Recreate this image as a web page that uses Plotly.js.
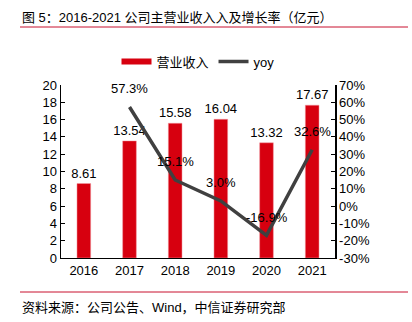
<!DOCTYPE html>
<html><head><meta charset="utf-8">
<script src="https://cdn.plot.ly/plotly-3.0.1.min.js"></script>
<style>html,body{margin:0;padding:0;background:#fff}#c{width:412px;height:322px}</style>
</head><body><div id="c"></div>
<script>
const years = ['2016','2017','2018','2019','2020','2021'];
const revenue = [8.61, 13.54, 15.58, 16.04, 13.32, 17.67];
const yoyYears = ['2017','2018','2019','2020','2021'];
const yoy = [57.3, 15.1, 3.0, -16.9, 32.6];
const leftTicks = [0,2,4,6,8,10,12,14,16,18,20];
const rightTicks = [-30,-20,-10,0,10,20,30,40,50,60,70];

const F = 'Liberation Sans, Arial, Noto Sans CJK SC, sans-serif';
const traces = [
  {type:'bar', name:'营业收入', x:years, y:revenue, showlegend:false,
   marker:{color:'#d7000f', line:{color:'#f2a0a8', width:0.5}},
   width:0.3, text:revenue.map(v=>v.toFixed(2)), textposition:'outside', constraintext:'none', cliponaxis:false,
   textfont:{family:F, size:13, color:'#000'}},
  {type:'scatter', mode:'lines', name:'营业收入', x:[years[0], years[0]], y:[null, null], line:{color:'#d7000f', width:6}},
  {type:'scatter', mode:'lines', name:'yoy', x:yoyYears, y:yoy, yaxis:'y2',
   line:{color:'#404040', width:3.5}, cliponaxis:false}
];
const yoyLabels = yoyYears.map((yr,i)=>({xref:'x', yref:'y2', x:years.indexOf(yr), y:yoy[i], yshift:18, showarrow:false,
  text:yoy[i].toFixed(1)+'%', font:{family:F, size:13, color:'#000'}}));
const layout = {
  width:412, height:322, margin:{l:61, r:77, t:85, b:64},
  paper_bgcolor:'#fff', plot_bgcolor:'#fff', font:{family:F, size:13, color:'#000'},
  showlegend:true, bargap:0.7,
  legend:{orientation:'h', x:0.5, xanchor:'center', y:1.135, yanchor:'middle', font:{family:F, size:13}, itemwidth:30, traceorder:'normal'},
  xaxis:{type:'category', categoryorder:'array', categoryarray:years, range:[-0.5, years.length-0.5], showline:true, linecolor:'#000', linewidth:1, ticks:'', showgrid:false, tickfont:{size:13}},
  yaxis:{range:[0,20], tickvals:leftTicks, showline:true, linecolor:'#000', linewidth:1.5, ticks:'inside', ticklen:4, tickcolor:'#000', showgrid:false, zeroline:false, tickfont:{size:13}},
  yaxis2:{overlaying:'y', side:'right', range:[-30,70], tickvals:rightTicks, ticktext:rightTicks.map(v=>v+'%'), showline:true, linecolor:'#000', linewidth:1.5, ticks:'inside', ticklen:4, tickcolor:'#000', showgrid:false, zeroline:false, tickfont:{size:13}},
  annotations:[
    {xref:'paper', yref:'paper', x:-41/274, y:1+ (85-17)/173, xanchor:'left', yanchor:'middle', showarrow:false,
     text:'图 5：2016-2021 公司主营业收入入及增长率（亿元）', font:{family:F, size:13, color:'#000'}},
    {xref:'paper', yref:'paper', x:-41/274, y:-(307-258)/173, xanchor:'left', yanchor:'middle', showarrow:false,
     text:'资料来源：公司公告、Wind，中信证券研究部', font:{family:F, size:13, color:'#000'}}
  ].concat(yoyLabels),
  shapes:[
    {type:'line', xref:'paper', yref:'paper', x0:-41/274, x1:347/274, y0:1+(85-27)/173, y1:1+(85-27)/173, line:{color:'#c8102e', width:1}},
    {type:'line', xref:'paper', yref:'paper', x0:-41/274, x1:347/274, y0:-(292-258)/173, y1:-(292-258)/173, line:{color:'#c8102e', width:1}}
  ]
};
Plotly.newPlot('c', traces, layout, {staticPlot:true, displayModeBar:false});
</script></body></html>
